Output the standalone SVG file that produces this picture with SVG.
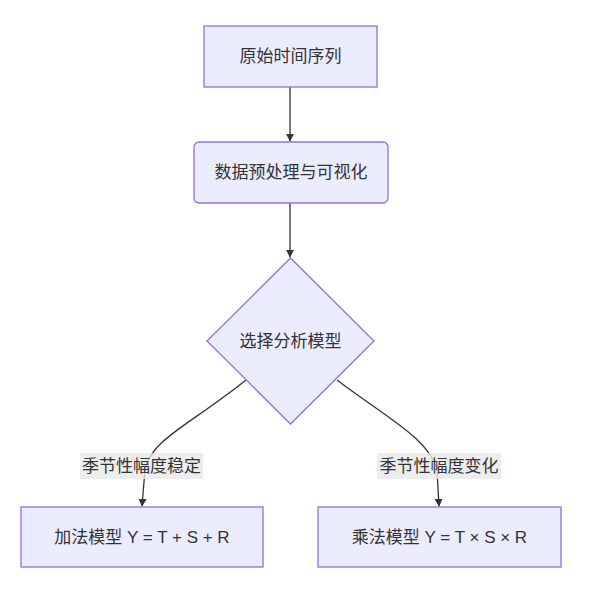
<svg xmlns="http://www.w3.org/2000/svg" width="592" height="606" viewBox="0 0 592 606">
<style>
.node{fill:#ECECFF;stroke:#9370DB;stroke-width:1.3}
.t{font-family:"Liberation Sans","Noto Sans CJK SC",sans-serif;font-size:17px;fill:#333;text-anchor:middle;dominant-baseline:central}
.edge{fill:none;stroke:#333;stroke-width:1.3}
.lbl{fill:rgba(232,232,232,0.8)}
</style>
<defs>
<marker id="arr" viewBox="0 0 10 10" refX="9" refY="5" markerWidth="8" markerHeight="8" markerUnits="userSpaceOnUse" orient="auto">
<path d="M0,0 L10,5 L0,10 z" fill="#333"/>
</marker>
</defs>
<g id="edges">
<path class="edge" d="M290,87 L290,141" marker-end="url(#arr)"/>
<path class="edge" d="M290,203 L290,257" marker-end="url(#arr)"/>
<path class="edge" d="M246,380 C190,425 150,440 145,470 L142,506" marker-end="url(#arr)"/>
<path class="edge" d="M337,380 C390,420 430,440 437,470 L439,506" marker-end="url(#arr)"/>
</g>
<g id="n1"><rect class="node" x="204" y="26" width="173" height="61"/><text class="t" x="290.5" y="56.5">原始时间序列</text></g>
<g id="n2"><rect class="node" x="194" y="142" width="194" height="61" rx="5"/><text class="t" x="291" y="172.5">数据预处理与可视化</text></g>
<g id="n3"><polygon class="node" points="290.5,258 374,341 290.5,424 207,341"/><text class="t" x="290.5" y="341">选择分析模型</text></g>
<g id="l1"><rect class="lbl" x="80" y="453" width="123" height="26"/><text class="t" x="141.5" y="466">季节性幅度稳定</text></g>
<g id="l2"><rect class="lbl" x="377" y="453" width="124" height="26"/><text class="t" x="439" y="466">季节性幅度变化</text></g>
<g id="n4"><rect class="node" x="21" y="507" width="242" height="60"/><text class="t" x="142" y="537">加法模型 Y = T + S + R</text></g>
<g id="n5"><rect class="node" x="318" y="507" width="243" height="60"/><text class="t" x="439.5" y="537">乘法模型 Y = T × S × R</text></g>
</svg>
